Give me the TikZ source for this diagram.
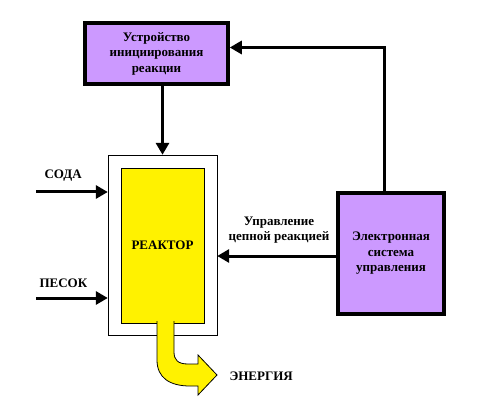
\documentclass[tikz,border=0pt]{standalone}
\usepackage{fontspec}
\setmainfont{Liberation Serif}
\usetikzlibrary{arrows.meta}
\definecolor{lilac}{HTML}{CC99FF}
\tikzset{
  unit/.style={draw, fill=lilac, line width=3.5pt, align=center,
    font=\bfseries\fontsize{13}{15.5}\selectfont},
  lbl/.style={font=\bfseries\fontsize{13}{15.5}\selectfont, align=center},
  feed/.style={line width=3pt, -{Triangle[length=12pt,width=13pt]}}
}
\begin{document}
\begin{tikzpicture}[x=1pt,y=-1pt]
\useasboundingbox (0,0) rectangle (478,411);
\node[unit, minimum width=143pt, minimum height=61pt] (init) at (156.5,53.5)
  {Устройство\\инициирования\\реакции};
\node[draw, fill=white, minimum width=109pt, minimum height=180pt] (shell) at (162.5,245) {};
\node[draw, fill=yellow, minimum width=83pt, minimum height=155pt, lbl] (core) at (162.5,245.5) {РЕАКТОР};
\node[unit, minimum width=106pt, minimum height=121pt] (elec) at (391,253.5)
  {Электронная\\система\\управления};
% feed arrows
\coordinate (sodain) at (36,192);
\coordinate (sandin) at (36,298);
\node[lbl, anchor=west] (soda) at (41,176) {СОДА};
\node[lbl, anchor=west] (sand) at (36,283) {ПЕСОК};
\draw[feed] (sodain) -- (sodain -| shell.west);
\draw[feed] (sandin) -- (sandin -| shell.west);
\draw[feed] (init.south -| core.north) -- (shell.north -| core.north);
\draw[feed] ([xshift=-7pt]elec.north) |- ([yshift=6pt]init.east);
\draw[feed] ([yshift=-2.5pt]elec.west) -- ([yshift=-2.5pt]elec.west -| shell.east);
\node[lbl] (ctrl) at (279,230) {Управление\\цепной реакцией};
% energy output
\filldraw[fill=yellow, draw=black, line width=0.8pt]
  (157,321) -- (157,360) .. controls (157,378) and (170,386) .. (190,386)
  -- (198,386) -- (198,395) -- (217,375) -- (198,355) -- (198,364) -- (188,364)
  .. controls (178,364) and (174,360) .. (174,352) -- (174,321);
\node[lbl, anchor=west] (energy) at (226,376) {ЭНЕРГИЯ};
\end{tikzpicture}
\end{document}
